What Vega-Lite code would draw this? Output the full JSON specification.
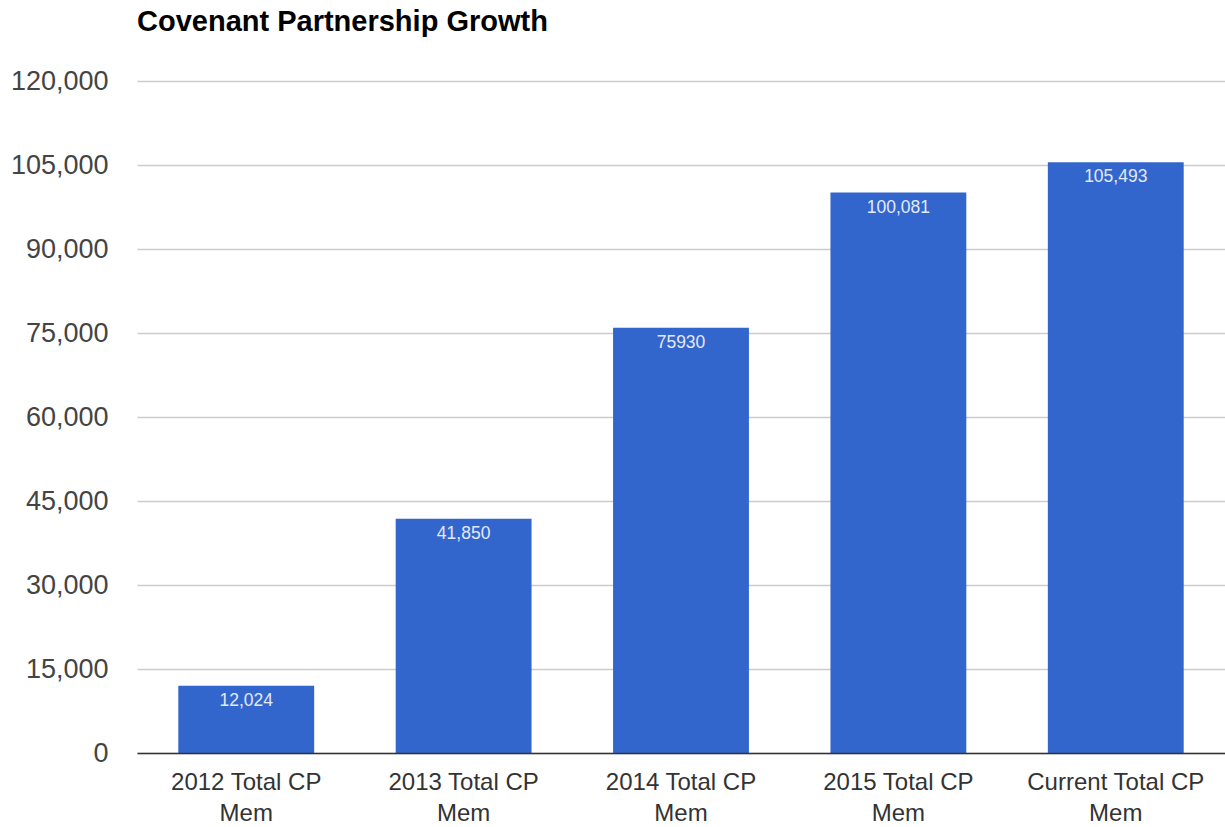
{
  "$schema": "https://vega.github.io/schema/vega-lite/v6.json",
  "width": 1088,
  "height": 672,
  "autosize": {"type": "none"},
  "padding": {"left": 137, "top": 81, "right": 0, "bottom": 74},
  "background": "white",
  "title": {
    "text": "Covenant Partnership Growth",
    "anchor": "start",
    "frame": "group",
    "fontSize": 29,
    "fontWeight": "bold",
    "font": "Liberation Sans",
    "color": "#000000",
    "offset": 30
  },
  "data": {
    "values": [
      {"category": "2012 Total CP Mem", "members": 12024, "label": "12,024"},
      {"category": "2013 Total CP Mem", "members": 41850, "label": "41,850"},
      {"category": "2014 Total CP Mem", "members": 75930, "label": "75930"},
      {"category": "2015 Total CP Mem", "members": 100081, "label": "100,081"},
      {"category": "Current Total CP Mem", "members": 105493, "label": "105,493"}
    ]
  },
  "config": {
    "view": {"stroke": null},
    "font": "Liberation Sans"
  },
  "encoding": {
    "x": {
      "field": "category",
      "type": "nominal",
      "sort": null,
      "scale": {"paddingInner": 0.375, "paddingOuter": 0.19},
      "axis": {
        "title": null,
        "labelAngle": 0,
        "labelFontSize": 24,
        "labelColor": "#333333",
        "labelFont": "Liberation Sans",
        "labelExpr": "[replace(datum.label, ' Mem', ''), 'Mem']",
        "labelLineHeight": 31,
        "labelPadding": 17,
        "ticks": false,
        "domainColor": "#333333",
        "domainWidth": 1.5,
        "zindex": 1
      }
    },
    "y": {
      "field": "members",
      "type": "quantitative",
      "scale": {"domain": [0, 120000], "nice": false},
      "axis": {
        "title": null,
        "values": [0, 15000, 30000, 45000, 60000, 75000, 90000, 105000, 120000],
        "format": ",d",
        "labelFontSize": 27,
        "labelColor": "#444444",
        "labelFont": "Liberation Sans",
        "labelPadding": 29,
        "ticks": false,
        "domain": false,
        "gridColor": "#cccccc",
        "gridWidth": 1.5
      }
    }
  },
  "layer": [
    {"mark": {"type": "bar", "color": "#3366cc"}},
    {
      "mark": {"type": "text", "color": "#e3eaf7", "fontSize": 17.5, "baseline": "middle", "dy": 15, "font": "Liberation Sans"},
      "encoding": {"text": {"field": "label"}}
    }
  ]
}
